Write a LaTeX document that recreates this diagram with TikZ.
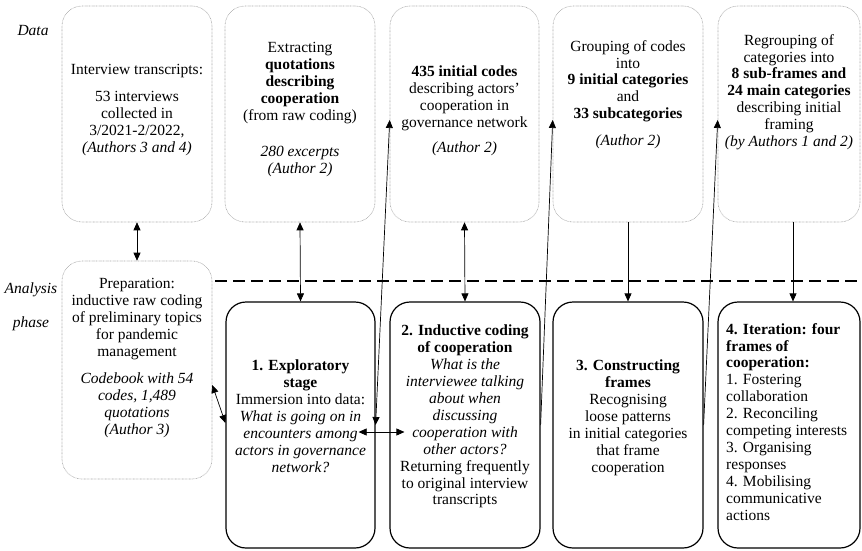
\documentclass[tikz,border=0pt]{standalone}
\usepackage{fontspec}
\setmainfont{Liberation Serif}
\usetikzlibrary{arrows.meta,calc}
\begin{document}
\begin{tikzpicture}[x=1pt,y=-1pt,
  databox/.style={draw=gray!70, line width=0.6pt, dash pattern=on 0.7pt off 0.7pt, rounded corners=20pt, inner sep=0pt},
  phasebox/.style={draw=black, line width=1.2pt, rounded corners=20pt, inner sep=0pt},
  txt/.style={align=center, inner sep=0pt, anchor=north, font=\fontsize{15.5}{16.9}\selectfont},
  lbl/.style={inner sep=0pt, font=\fontsize{15.5}{16.9}\selectfont\itshape},
  conn/.style={line width=0.7pt, -{Triangle[length=8pt,width=7pt]}},
  biconn/.style={line width=0.7pt, {Triangle[length=8pt,width=7pt]}-{Triangle[length=8pt,width=7pt]}},
  sepline/.style={line width=1.3pt, dash pattern=on 12pt off 6pt},
]
\useasboundingbox (0,0) rectangle (862,550);

% labels
\node[lbl] (ldata) at (33,30) {Data};
\node[lbl] (lanalysis) at (31,290) {Analysis};
\node[lbl] (lphase) at (31,324) {phase};

% separator
\coordinate (dl) at (215,281);
\coordinate (dr) at (862,281);
\draw[sepline] (dl) -- (dr);

% top boxes
\node[databox, minimum width=150pt, minimum height=216pt] (A) at (137,114) {};
\node[databox, minimum width=150pt, minimum height=216pt] (B) at (300,114) {};
\node[databox, minimum width=149pt, minimum height=216pt] (C) at (464.5,114) {};
\node[databox, minimum width=150pt, minimum height=216pt] (D) at (628,114) {};
\node[databox, minimum width=142pt, minimum height=216pt] (E) at (789,114) {};

% bottom boxes
\node[databox, minimum width=150pt, minimum height=218pt] (prep) at (137,370) {};
\node[phasebox, minimum width=149pt, minimum height=246pt] (b1) at (300.5,425) {};
\node[phasebox, minimum width=150pt, minimum height=246pt] (b2) at (465,425) {};
\node[phasebox, minimum width=150pt, minimum height=246pt] (b3) at (628,425) {};
\node[phasebox, minimum width=142pt, minimum height=246pt] (b4) at (789,425) {};

% texts
\node[txt] (tA) at (137,64) {Interview transcripts:\\[10pt]53 interviews\\collected in\\3/2021-2/2022,\\\textit{(Authors 3 and 4)}};
\node[txt] (tB) at (300,42) {Extracting\\\textbf{quotations}\\\textbf{describing}\\\textbf{cooperation}\\(from raw coding)\\[20pt]\textit{280 excerpts}\\\textit{(Author 2)}};
\node[txt] (tC) at (464.5,66) {\textbf{435 initial codes}\\describing actors'\\cooperation in\\governance network\\[8pt]\textit{(Author 2)}};
\node[txt] (tD) at (628,40) {Grouping of codes\\into\\\textbf{9 initial categories}\\and\\\textbf{33 subcategories}\\[10pt]\textit{(Author 2)}};
\node[txt] (tE) at (789,34) {Regrouping of\\categories into\\\textbf{8 sub-frames and}\\\textbf{24 main categories}\\describing initial\\framing\\\textit{(by Authors 1 and 2)}};
\node[txt] (tP) at (137,278) {Preparation:\\inductive raw coding\\of preliminary topics\\for pandemic\\management\\[11pt]\textit{Codebook with 54}\\\textit{codes, 1,489}\\\textit{quotations}\\\textit{(Author 3)}};
\node[txt] (t1) at (300.5,360) {\textbf{1. Exploratory}\\\textbf{stage}\\Immersion into data:\\\textit{What is going on in}\\\textit{encounters among}\\\textit{actors in governance}\\\textit{network?}};
\node[txt] (t2) at (465,325) {\textbf{2. Inductive coding}\\\textbf{of cooperation}\\\textit{What is the}\\\textit{interviewee talking}\\\textit{about when}\\\textit{discussing}\\\textit{cooperation with}\\\textit{other actors?}\\Returning frequently\\to original interview\\transcripts};
\node[txt] (t3) at (628,360) {\textbf{3. Constructing}\\\textbf{frames}\\Recognising\\loose patterns\\in initial categories\\that frame\\cooperation};
\node[txt, align=left, anchor=north west] (t4) at (726,323) {\textbf{4. Iteration: four}\\\textbf{frames of}\\\textbf{cooperation:}\\1. Fostering\\collaboration\\2. Reconciling\\competing interests\\3. Organising\\responses\\4. Mobilising\\communicative\\actions};

% connectors
\draw[biconn] (A.south) -- (prep.north);
\draw[biconn] (B.south) -- (b1.north);
\draw[biconn] (C.south) -- (b2.north);
\draw[conn] (D.south) -- (b3.north);
\draw[conn] ([xshift=4pt]E.south) -- ([xshift=4pt]b4.north);
\draw[biconn] (b1.east) -- ([yshift=-6pt]C.west);
\draw[conn] (b2.east) -- ([yshift=-6pt]D.west);
\draw[conn] (b3.east) -- ([yshift=-6pt]E.west);
\draw[biconn] ([xshift=-17pt,yshift=-7pt]b1.east) -- ([xshift=15pt,yshift=-7pt]b2.west);
\draw[biconn] ([yshift=-15pt]prep.east) -- ([yshift=2pt]b1.west);
\end{tikzpicture}
\end{document}
